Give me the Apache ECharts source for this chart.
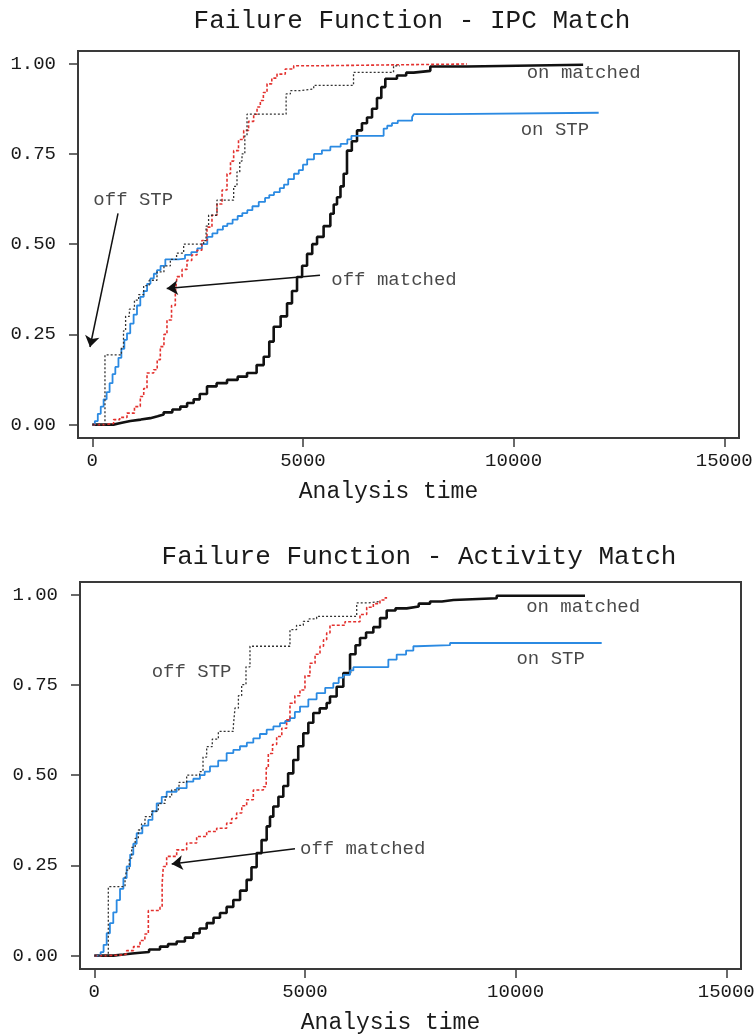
<!DOCTYPE html>
<html>
<head>
<meta charset="utf-8">
<script src="https://cdn.jsdelivr.net/npm/echarts@6/dist/echarts.min.js"></script>
<style>
html,body{margin:0;padding:0;background:#fff;}
#chart{width:754px;height:1035px;}
</style>
</head>
<body>
<div id="chart"></div>
<script>
// ---- tick labels ----
const xTicks = [0, 5000, 10000, 15000];
const yTicks = [0, 0.25, 0.5, 0.75, 1];
const titles = ['Failure Function - IPC Match', 'Failure Function - Activity Match'];
const xName = 'Analysis time';

// ---- IPC Match: [analysis time, failure] ----
const ipcOnMatched = [[0,0],[500,0.005],[700,0.01],[902,0.014],[1150,0.018],[1377,0.023],[1550,0.028],[1693,0.034],[1900,0.042],[2089,0.05],[2250,0.06],[2406,0.07],[2550,0.085],[2722,0.106],[2950,0.115],[3197,0.124],[3450,0.133],[3672,0.143],[3900,0.165],[4068,0.188],[4200,0.23],[4305,0.271],[4470,0.30],[4622,0.336],[4740,0.37],[4859,0.409],[4980,0.44],[5097,0.473],[5220,0.50],[5334,0.52],[5490,0.55],[5650,0.584],[5730,0.61],[5808,0.63],[5890,0.66],[5966,0.695],[6045,0.759],[6160,0.785],[6283,0.815],[6400,0.835],[6520,0.851],[6640,0.875],[6757,0.905],[6860,0.935],[6955,0.958],[7231,0.967],[7450,0.975],[7627,0.98],[8023,0.992],[8894,0.997],[11650,0.997]];
const ipcOnSTP = [[0,0],[60,0.01],[130,0.03],[200,0.05],[268,0.07],[340,0.09],[410,0.115],[480,0.14],[546,0.16],[620,0.185],[690,0.21],[760,0.235],[823,0.253],[900,0.28],[980,0.305],[1060,0.33],[1139,0.354],[1220,0.37],[1300,0.39],[1380,0.405],[1460,0.418],[1535,0.428],[1620,0.44],[1733,0.458],[2045,0.46],[2200,0.47],[2350,0.478],[2491,0.488],[2600,0.50],[2729,0.52],[2850,0.53],[2970,0.54],[3100,0.55],[3204,0.557],[3330,0.568],[3450,0.578],[3560,0.586],[3679,0.594],[3800,0.605],[3950,0.617],[4100,0.628],[4200,0.636],[4312,0.644],[4450,0.655],[4550,0.665],[4650,0.68],[4787,0.695],[4900,0.705],[5000,0.72],[5100,0.735],[5262,0.75],[5450,0.76],[5650,0.77],[5895,0.778],[6053,0.79],[6150,0.80],[6915,0.82],[7000,0.828],[7113,0.835],[7250,0.842],[7591,0.852],[7631,0.86],[8423,0.864],[12019,0.864]];
const ipcOffMatched = [[0,0],[260,0.003],[506,0.014],[650,0.02],[823,0.032],[1000,0.05],[1139,0.078],[1220,0.10],[1298,0.143],[1456,0.152],[1540,0.18],[1614,0.216],[1700,0.25],[1772,0.29],[1880,0.33],[1970,0.364],[2010,0.41],[2130,0.43],[2247,0.455],[2360,0.47],[2485,0.483],[2600,0.51],[2722,0.547],[2840,0.58],[2959,0.611],[3080,0.65],[3197,0.695],[3280,0.73],[3355,0.759],[3470,0.79],[3593,0.815],[3710,0.84],[3830,0.86],[3910,0.88],[3988,0.898],[4060,0.92],[4147,0.944],[4260,0.96],[4384,0.971],[4580,0.985],[4780,0.994],[5255,0.999],[8894,0.999]];
const ipcOffSTP = [[0,0],[300,0.193],[690,0.215],[740,0.26],[790,0.30],[880,0.32],[1000,0.345],[1100,0.36],[1218,0.385],[1350,0.40],[1535,0.423],[1700,0.44],[1852,0.458],[2000,0.475],[2168,0.50],[2643,0.51],[2700,0.55],[2760,0.58],[2959,0.622],[3355,0.66],[3434,0.70],[3500,0.73],[3553,0.75],[3620,0.80],[3672,0.86],[4600,0.916],[4700,0.925],[4938,0.93],[5255,0.94],[6200,0.976],[7150,0.994],[7300,0.994]];

// ---- Activity Match ----
const actOnMatched = [[0,0],[450,0.003],[689,0.006],[900,0.008],[1085,0.01],[1300,0.017],[1559,0.025],[1750,0.032],[1955,0.039],[2150,0.05],[2350,0.062],[2500,0.075],[2667,0.09],[2830,0.105],[2983,0.118],[3140,0.135],[3299,0.154],[3460,0.18],[3616,0.21],[3730,0.245],[3853,0.284],[3970,0.32],[4091,0.358],[4170,0.385],[4249,0.413],[4370,0.44],[4486,0.47],[4600,0.505],[4723,0.542],[4840,0.58],[4961,0.616],[5080,0.645],[5198,0.672],[5350,0.685],[5515,0.70],[5594,0.718],[5752,0.745],[5911,0.783],[6070,0.835],[6200,0.86],[6307,0.88],[6450,0.895],[6623,0.91],[6782,0.935],[6940,0.956],[7150,0.962],[7415,0.967],[7700,0.975],[7969,0.981],[8250,0.985],[8523,0.99],[9552,0.997],[11647,0.997]];
const actOnSTP = [[0,0],[150,0.01],[220,0.03],[293,0.062],[370,0.09],[450,0.12],[530,0.154],[610,0.185],[690,0.215],[768,0.247],[850,0.28],[925,0.31],[1005,0.339],[1140,0.36],[1282,0.376],[1380,0.40],[1480,0.422],[1600,0.44],[1717,0.454],[1955,0.464],[2192,0.482],[2350,0.49],[2508,0.50],[2620,0.51],[2745,0.524],[2940,0.54],[3141,0.561],[3300,0.57],[3457,0.58],[3620,0.59],[3774,0.602],[3930,0.614],[4091,0.626],[4250,0.635],[4407,0.644],[4530,0.65],[4644,0.658],[4760,0.675],[4882,0.69],[5080,0.71],[5277,0.727],[5480,0.742],[5673,0.755],[5800,0.77],[5911,0.778],[6070,0.79],[6149,0.799],[6979,0.82],[7177,0.834],[7400,0.845],[7573,0.857],[7650,0.86],[8443,0.866],[12043,0.866]];
const actOffMatched = [[0,0],[293,0.002],[689,0.005],[768,0.014],[930,0.025],[1085,0.042],[1200,0.06],[1282,0.125],[1559,0.134],[1610,0.2],[1638,0.247],[1717,0.275],[1955,0.293],[2192,0.312],[2429,0.33],[2667,0.344],[2904,0.353],[3141,0.367],[3260,0.38],[3378,0.395],[3500,0.415],[3616,0.432],[3774,0.459],[4012,0.468],[4080,0.52],[4130,0.56],[4230,0.585],[4328,0.607],[4450,0.63],[4565,0.653],[4644,0.699],[4760,0.72],[4882,0.736],[5000,0.775],[5119,0.81],[5240,0.835],[5357,0.857],[5440,0.875],[5515,0.894],[5594,0.915],[5950,0.925],[6306,0.945],[6465,0.965],[6623,0.975],[6780,0.985],[6900,0.991],[6950,0.991]];
const actOffSTP = [[0,0],[332,0.191],[729,0.215],[768,0.237],[830,0.27],[887,0.30],[970,0.325],[1045,0.348],[1120,0.365],[1203,0.385],[1360,0.40],[1519,0.422],[1680,0.44],[1836,0.459],[2010,0.48],[2192,0.50],[2500,0.51],[2580,0.55],[2667,0.579],[2800,0.60],[2944,0.621],[3299,0.635],[3339,0.686],[3420,0.72],[3497,0.751],[3600,0.80],[3695,0.857],[4644,0.903],[4800,0.915],[4961,0.926],[5100,0.933],[5277,0.94],[6228,0.977],[6500,0.981],[6782,0.981]];

// ---- annotations (data coordinates) ----
const ipcNotes = [['on matched', 10311, 0.975], ['on STP', 10168, 0.815], ['off STP', 24, 0.621], ['off matched', 5673, 0.40]];
const ipcArrows = [[[610, 0.585], [-55, 0.215]], [[5404, 0.414], [1766, 0.377]]];
const actNotes = [['on matched', 10250, 0.965], ['on STP', 10020, 0.823], ['off STP', 1362, 0.787], ['off matched', 4882, 0.296]];
const actArrows = [[[4763, 0.296], [1837, 0.254]]];

const FONT = "'Liberation Mono', 'Courier New', monospace";
const TXT = '#1a1a1a';

const grids = [
  {left: 78, top: 51, width: 661, height: 387},
  {left: 80, top: 582, width: 661, height: 387}
];

function xAxisFor(i) {
  return {
    type: 'value', gridIndex: i, min: -340, max: 15350,
    splitLine: {show: false},
    axisLine: {show: true, onZero: false, lineStyle: {color: '#3a3a3a', width: 2}},
    axisTick: {show: true, inside: false, customValues: xTicks, length: 9, lineStyle: {color: '#3a3a3a', width: 1.5}},
    axisLabel: {customValues: xTicks, fontFamily: FONT, fontSize: 19, color: TXT, margin: 13,
      formatter: v => String(v)},
    name: xName, nameLocation: 'middle', nameGap: 42,
    nameTextStyle: {fontFamily: FONT, fontSize: 23, color: TXT, padding: [0, 40, 0, 0]}
  };
}
function yAxisFor(i) {
  return {
    type: 'value', gridIndex: i, min: -0.037, max: 1.035,
    splitLine: {show: false},
    axisLine: {show: true, onZero: false, lineStyle: {color: '#3a3a3a', width: 2}},
    axisTick: {show: true, inside: false, customValues: yTicks, length: 9, lineStyle: {color: '#3a3a3a', width: 1.5}},
    axisLabel: {customValues: yTicks, fontFamily: FONT, fontSize: 19, color: TXT, margin: 22,
      formatter: v => Number(v).toFixed(2)}
  };
}

function stepSeries(i, data, style, z) {
  return {
    type: 'line', xAxisIndex: i, yAxisIndex: i, step: 'end', data: data,
    showSymbol: false, symbol: 'none', silent: true, z: z,
    lineStyle: style
  };
}
const styleOnMatched = {color: '#111', width: 2.6, type: 'solid'};
const styleOnSTP = {color: '#2b8ae2', width: 1.8, type: 'solid'};
const styleOffMatched = {color: '#e3312e', width: 1.6, type: [3, 2]};
const styleOffSTP = {color: '#333', width: 1.3, type: [2, 2]};

function noteSeries(i, notes, arrows) {
  return {
    type: 'scatter', xAxisIndex: i, yAxisIndex: i, silent: true, z: 10,
    symbolSize: 0,
    data: notes.map(n => [n[1], n[2], n[0]]),
    label: {show: true, position: 'right', distance: 0, formatter: p => p.data[2],
      fontFamily: FONT, fontSize: 19, color: TXT},
    markLine: {
      silent: true, animation: false, symbol: ['none', 'arrow'], symbolSize: 11,
      label: {show: false},
      lineStyle: {color: '#111', width: 1.5, type: 'solid'},
      data: arrows.map(a => [{coord: a[0]}, {coord: a[1]}])
    }
  };
}

const chart = echarts.init(document.getElementById('chart'), null, {renderer: 'canvas'});
chart.setOption({
  animation: false,
  backgroundColor: '#fff',
  title: [
    {text: titles[0], left: 407, top: 3, textAlign: 'center',
      textStyle: {fontFamily: FONT, fontSize: 26, fontWeight: 'normal', color: TXT}},
    {text: titles[1], left: 414, top: 539, textAlign: 'center',
      textStyle: {fontFamily: FONT, fontSize: 26, fontWeight: 'normal', color: TXT}}
  ],
  grid: grids.map(g => Object.assign({show: true, borderColor: '#3a3a3a', borderWidth: 2,
    backgroundColor: '#fff', containLabel: false, outerBoundsMode: 'none'}, g)),
  xAxis: [xAxisFor(0), xAxisFor(1)],
  yAxis: [yAxisFor(0), yAxisFor(1)],
  series: [
    stepSeries(0, ipcOnMatched, styleOnMatched, 2),
    stepSeries(0, ipcOnSTP, styleOnSTP, 3),
    stepSeries(0, ipcOffMatched, styleOffMatched, 4),
    stepSeries(0, ipcOffSTP, styleOffSTP, 5),
    noteSeries(0, ipcNotes, ipcArrows),
    stepSeries(1, actOnMatched, styleOnMatched, 2),
    stepSeries(1, actOnSTP, styleOnSTP, 3),
    stepSeries(1, actOffMatched, styleOffMatched, 4),
    stepSeries(1, actOffSTP, styleOffSTP, 5),
    noteSeries(1, actNotes, actArrows)
  ]
});
</script>
</body>
</html>
